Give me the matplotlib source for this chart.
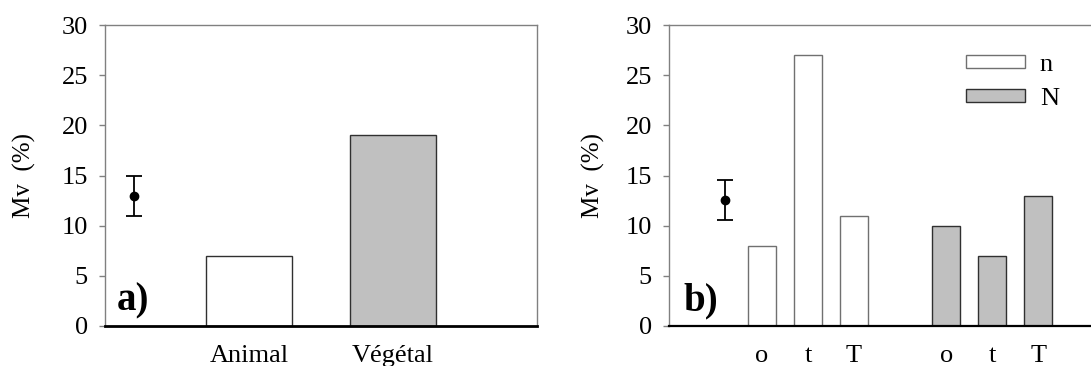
import matplotlib.pyplot as plt

plt.rcParams['font.family'] = ['Liberation Serif', 'DejaVu Serif']

# panel a
cat_a = ['Animal', 'Végétal']
val_a = [7, 19]
err_mean_a, err_a = 13, 2

# panel b
cat_b = ['o', 't', 'T']
val_n = [8, 27, 11]
val_N = [10, 7, 13]
err_mean_b, err_b = 12.6, 2

W, H = 1091, 366
fig = plt.figure(figsize=(W / 100, H / 100), dpi=100)

grey = '#C0C0C0'
spine_grey = '#808080'
fs = 19


def style(ax, label_x):
    ax.set_ylim(0, 30)
    ax.set_xlim(0, 6)
    ax.set_yticks(range(0, 31, 5))
    for s in ['top', 'left', 'right']:
        ax.spines[s].set_color(spine_grey)
        ax.spines[s].set_linewidth(1)
    ax.spines['bottom'].set_color('black')
    ax.spines['bottom'].set_linewidth(1.6)
    ax.tick_params(axis='y', direction='out', length=4.3, width=1,
                   color=spine_grey, pad=8, labelsize=fs)
    ax.tick_params(axis='x', length=0, pad=14, labelsize=fs)
    ax.set_ylabel('Mv  (%)', fontsize=18)
    ax.yaxis.set_label_coords(label_x, 0.5)


# ---- a) ----
ax1 = fig.add_axes([105 / W, 40 / H, 432 / W, 301 / H])
ax1.bar([2, 4], val_a, width=1.2, color=['white', grey],
        edgecolor='#303030', linewidth=1, zorder=2)
ax1.errorbar([0.4], [err_mean_a], yerr=[err_a], fmt='o', color='black',
             markersize=6, capsize=5.5, elinewidth=1.3, capthick=1.3)
ax1.set_xticks([2, 4])
ax1.set_xticklabels(cat_a)
style(ax1, -0.16)
ax1.spines['bottom'].set_linewidth(2)
ax1.text(0.028, 0.053, 'a)', transform=ax1.transAxes, fontsize=28,
         fontweight='bold', va='baseline', ha='left')

# ---- b) ----
ax2 = fig.add_axes([669 / W, 40 / H, 432 / W, 301 / H])
pos_n = [1.29, 1.93, 2.57]
pos_N = [3.85, 4.49, 5.13]
ax2.bar(pos_n, val_n, width=0.39, color='white', edgecolor='#707070',
        linewidth=1, label='n', zorder=2)
ax2.bar(pos_N, val_N, width=0.39, color=grey, edgecolor='#303030',
        linewidth=1, label='N', zorder=2)
ax2.errorbar([0.78], [err_mean_b], yerr=[err_b], fmt='o', color='black',
             markersize=6, capsize=5.5, elinewidth=1.3, capthick=1.3)
ax2.set_xticks(pos_n + pos_N)
ax2.set_xticklabels(cat_b + cat_b)
style(ax2, -0.147)
ax2.text(0.033, 0.053, 'b)', transform=ax2.transAxes, fontsize=28,
         fontweight='bold', va='baseline', ha='left')
ax2.legend(loc='center left', bbox_to_anchor=(966 / W, 1 - 82 / H),
           bbox_transform=fig.transFigure, frameon=False, fontsize=fs,
           handlelength=2.25, handleheight=0.35, handletextpad=0.55,
           labelspacing=0.45, borderpad=0, borderaxespad=0)

fig.savefig('out.png', dpi=100)
